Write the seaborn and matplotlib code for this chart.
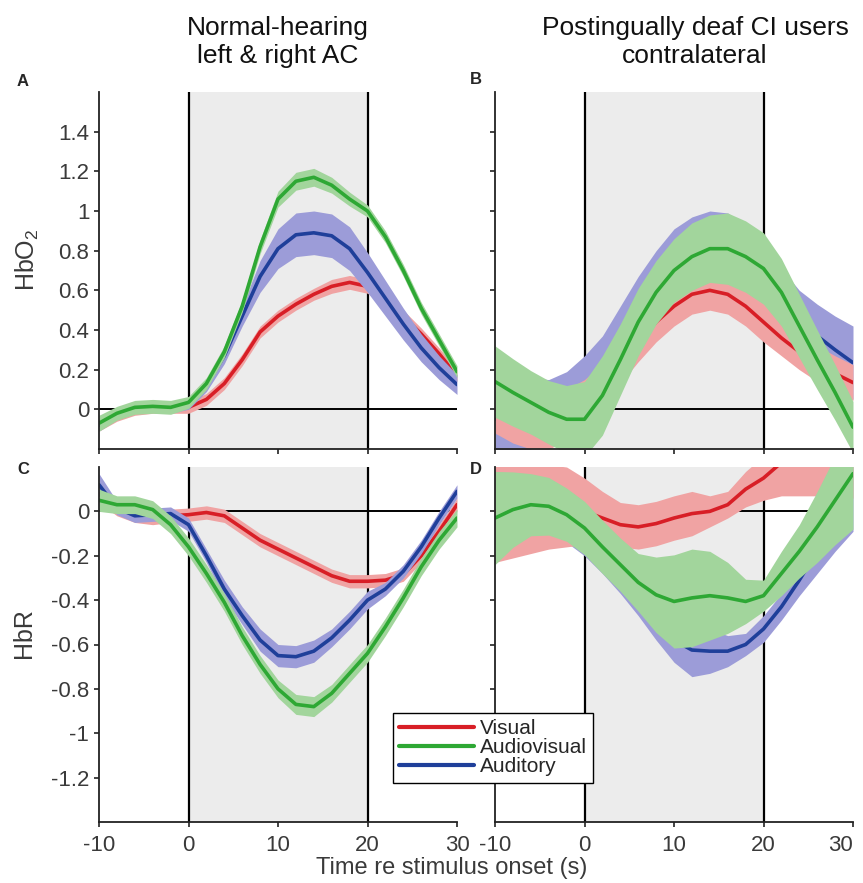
import numpy as np
import pandas as pd
import matplotlib
matplotlib.use("Agg")
import matplotlib.pyplot as plt
import seaborn as sns
from matplotlib.lines import Line2D

# time re stimulus onset (s), stimulus block 0-20 s
time_s = [-10, -8, -6, -4, -2, 0, 2, 4, 6, 8, 10, 12, 14, 16, 18, 20, 22, 24, 26, 28, 30]

# A: normal-hearing, HbO2 (mean and half-width of the shaded band)
a_vis = [-0.08, -0.03, 0.0, 0.01, 0.01, 0.01, 0.05, 0.13, 0.25, 0.39, 0.47, 0.53, 0.58, 0.62, 0.64, 0.62, 0.55, 0.47, 0.38, 0.28, 0.17]
a_vis_hw = [0.03, 0.03, 0.03, 0.03, 0.03, 0.03, 0.03, 0.03, 0.03, 0.03, 0.03, 0.03, 0.03, 0.035, 0.035, 0.035, 0.03, 0.03, 0.03, 0.03, 0.03]
a_av = [-0.07, -0.02, 0.01, 0.015, 0.01, 0.035, 0.13, 0.29, 0.52, 0.82, 1.06, 1.15, 1.17, 1.13, 1.06, 1.0, 0.87, 0.7, 0.51, 0.35, 0.19]
a_av_hw = [0.04, 0.035, 0.035, 0.035, 0.035, 0.03, 0.03, 0.03, 0.03, 0.035, 0.04, 0.045, 0.045, 0.04, 0.035, 0.03, 0.03, 0.03, 0.03, 0.03, 0.03]
a_aud = [-0.08, -0.02, 0.01, 0.015, 0.01, 0.03, 0.12, 0.27, 0.47, 0.67, 0.81, 0.88, 0.89, 0.875, 0.81, 0.69, 0.56, 0.43, 0.31, 0.21, 0.125]
a_aud_hw = [0.03, 0.03, 0.03, 0.03, 0.03, 0.03, 0.03, 0.04, 0.05, 0.08, 0.1, 0.11, 0.11, 0.11, 0.11, 0.1, 0.09, 0.08, 0.07, 0.06, 0.05]

# B: CI users contralateral, HbO2
b_vis = [0.0, -0.04, -0.06, -0.06, -0.03, 0.03, 0.12, 0.23, 0.34, 0.44, 0.52, 0.58, 0.6, 0.58, 0.52, 0.44, 0.36, 0.29, 0.23, 0.18, 0.135]
b_vis_hw = [0.12, 0.13, 0.14, 0.14, 0.13, 0.12, 0.11, 0.1, 0.1, 0.1, 0.1, 0.1, 0.1, 0.1, 0.1, 0.1, 0.09, 0.09, 0.09, 0.09, 0.09]
b_av = [0.14, 0.085, 0.035, -0.015, -0.05, -0.05, 0.07, 0.25, 0.44, 0.59, 0.7, 0.77, 0.81, 0.81, 0.77, 0.71, 0.59, 0.42, 0.25, 0.085, -0.09]
b_av_hw = [0.18, 0.17, 0.16, 0.16, 0.17, 0.19, 0.2, 0.18, 0.17, 0.16, 0.16, 0.17, 0.17, 0.18, 0.18, 0.18, 0.17, 0.16, 0.15, 0.14, 0.13]
b_aud = [-0.05, -0.04, -0.02, 0.0, 0.04, 0.1, 0.2, 0.35, 0.5, 0.63, 0.73, 0.79, 0.82, 0.81, 0.76, 0.67, 0.56, 0.45, 0.37, 0.3, 0.235]
b_aud_hw = [0.2, 0.2, 0.18, 0.15, 0.15, 0.17, 0.17, 0.17, 0.17, 0.17, 0.18, 0.18, 0.18, 0.18, 0.17, 0.16, 0.15, 0.15, 0.16, 0.17, 0.185]

# C: normal-hearing, HbR
c_vis = [0.08, 0.01, -0.02, -0.03, -0.02, -0.015, -0.005, -0.02, -0.075, -0.13, -0.17, -0.21, -0.25, -0.29, -0.315, -0.315, -0.31, -0.285, -0.2, -0.09, 0.03]
c_vis_hw = [0.04, 0.03, 0.03, 0.03, 0.03, 0.03, 0.03, 0.03, 0.03, 0.03, 0.03, 0.03, 0.03, 0.03, 0.03, 0.03, 0.03, 0.03, 0.03, 0.03, 0.03]
c_av = [0.05, 0.03, 0.03, 0.008, -0.06, -0.16, -0.28, -0.41, -0.56, -0.69, -0.8, -0.87, -0.88, -0.82, -0.73, -0.64, -0.52, -0.39, -0.25, -0.13, -0.03]
c_av_hw = [0.05, 0.04, 0.04, 0.04, 0.04, 0.04, 0.04, 0.04, 0.04, 0.04, 0.04, 0.045, 0.045, 0.04, 0.04, 0.04, 0.04, 0.04, 0.04, 0.04, 0.04]
c_aud = [0.12, 0.015, -0.02, -0.015, -0.01, -0.06, -0.2, -0.35, -0.47, -0.58, -0.65, -0.655, -0.63, -0.57, -0.49, -0.4, -0.35, -0.27, -0.16, -0.03, 0.09]
c_aud_hw = [0.05, 0.03, 0.03, 0.03, 0.03, 0.03, 0.03, 0.04, 0.04, 0.05, 0.05, 0.05, 0.05, 0.04, 0.04, 0.04, 0.03, 0.03, 0.03, 0.03, 0.03]

# D: CI users contralateral, HbR
d_vis = [0.0, 0.0, 0.01, 0.02, 0.02, 0.0, -0.03, -0.06, -0.07, -0.055, -0.03, -0.01, 0.0, 0.03, 0.1, 0.15, 0.22, 0.26, 0.27, 0.27, 0.27]
d_vis_hw = [0.23, 0.21, 0.2, 0.19, 0.18, 0.15, 0.12, 0.1, 0.1, 0.1, 0.1, 0.1, 0.07, 0.06, 0.08, 0.1, 0.15, 0.19, 0.2, 0.21, 0.21]
d_av = [-0.03, 0.008, 0.03, 0.023, -0.015, -0.075, -0.16, -0.24, -0.32, -0.376, -0.406, -0.39, -0.38, -0.39, -0.406, -0.38, -0.28, -0.18, -0.07, 0.05, 0.17]
d_av_hw = [0.21, 0.17, 0.14, 0.13, 0.12, 0.12, 0.12, 0.12, 0.13, 0.17, 0.21, 0.22, 0.2, 0.16, 0.1, 0.07, 0.1, 0.12, 0.16, 0.2, 0.25]
d_aud = [0.0, 0.02, 0.03, 0.03, -0.02, -0.1, -0.2, -0.3, -0.4, -0.5, -0.58, -0.625, -0.63, -0.63, -0.6, -0.53, -0.43, -0.31, -0.18, -0.05, 0.08]
d_aud_hw = [0.15, 0.15, 0.15, 0.14, 0.12, 0.1, 0.08, 0.07, 0.07, 0.08, 0.1, 0.12, 0.1, 0.07, 0.05, 0.06, 0.06, 0.07, 0.1, 0.13, 0.17]

conditions = ["Visual", "Audiovisual", "Auditory"]
line_colors = {"Visual": "#d81e26", "Audiovisual": "#2ea834", "Auditory": "#1f3f9a"}
band_colors = {"Visual": "#f0a3a3", "Audiovisual": "#a2d59c", "Auditory": "#9c9cd8"}
shade_color = "#ececec"

hbo_ticks = [0, 0.2, 0.4, 0.6, 0.8, 1.0, 1.2, 1.4]
hbo_ticklabels = ["0", "0.2", "0.4", "0.6", "0.8", "1", "1.2", "1.4"]
hbr_ticks = [-1.2, -1.0, -0.8, -0.6, -0.4, -0.2, 0]
hbr_ticklabels = ["-1.2", "-1", "-0.8", "-0.6", "-0.4", "-0.2", "0"]
x_ticks = [-10, 0, 10, 20, 30]
x_ticklabels = ["-10", "0", "10", "20", "30"]

sns.set_theme(style="ticks")
plt.rcParams["font.family"] = ["Liberation Sans", "DejaVu Sans"]
plt.rcParams["mathtext.default"] = "regular"
plt.rcParams["axes.unicode_minus"] = False

W, H = 863, 883
fig = plt.figure(figsize=(W / 100, H / 100), dpi=100)


def px_axes(x0, y0, x1, y1):
    # axes from pixel box (top-left origin)
    return fig.add_axes([x0 / W, 1 - y1 / H, (x1 - x0) / W, (y1 - y0) / H])


def draw_panel(ax, series, order, ylim, yticks, yticklabels, xlabels, ylabels):
    ax.axvspan(0, 20, color=shade_color, lw=0, zorder=0)
    ax.axvline(0, color="black", lw=1.6, zorder=1)
    ax.axvline(20, color="black", lw=1.6, zorder=1)
    ax.axhline(0, color="black", lw=1.4, zorder=1)
    z = 2
    for cond in order:
        mean, hw = series[cond]
        m = np.array(mean)
        h = np.array(hw)
        ax.fill_between(time_s, m - h, m + h, color=band_colors[cond], lw=0, zorder=z)
        df = pd.DataFrame({"t": time_s, "v": mean})
        sns.lineplot(data=df, x="t", y="v", ax=ax, color=line_colors[cond], lw=2.6, zorder=z + 1)
        z += 2
    ax.set_xlim(-10, 30)
    ax.set_ylim(*ylim)
    ax.set_xticks(x_ticks)
    ax.set_xticklabels(x_ticklabels if xlabels else [])
    ax.set_yticks(yticks)
    ax.set_yticklabels(yticklabels if ylabels else [])
    ax.set_xlabel("")
    ax.set_ylabel("")
    ax.set_facecolor("white")
    sns.despine(ax=ax)
    for side in ["left", "bottom"]:
        ax.spines[side].set_linewidth(1.3)
        ax.spines[side].set_color("#222222")
        ax.spines[side].set_zorder(20)
    ax.tick_params(direction="out", length=3.5, width=1.2, pad=3.5,
                   labelsize=16, colors="#222222", labelcolor="#3a3a3a")
    ax.tick_params(axis="x", pad=6)


left_order = ["Visual", "Auditory", "Audiovisual"]
right_order = ["Auditory", "Visual", "Audiovisual"]

ax_a = px_axes(99, 92, 457, 449)
draw_panel(ax_a, {"Visual": (a_vis, a_vis_hw), "Audiovisual": (a_av, a_av_hw), "Auditory": (a_aud, a_aud_hw)},
           left_order, (-0.2, 1.6), hbo_ticks, hbo_ticklabels, False, True)
ax_b = px_axes(495, 92, 853, 449)
draw_panel(ax_b, {"Visual": (b_vis, b_vis_hw), "Audiovisual": (b_av, b_av_hw), "Auditory": (b_aud, b_aud_hw)},
           right_order, (-0.2, 1.6), hbo_ticks, hbo_ticklabels, False, False)
ax_c = px_axes(99, 467, 457, 822)
draw_panel(ax_c, {"Visual": (c_vis, c_vis_hw), "Audiovisual": (c_av, c_av_hw), "Auditory": (c_aud, c_aud_hw)},
           left_order, (-1.4, 0.2), hbr_ticks, hbr_ticklabels, True, True)
ax_d = px_axes(495, 467, 853, 822)
draw_panel(ax_d, {"Visual": (d_vis, d_vis_hw), "Audiovisual": (d_av, d_av_hw), "Auditory": (d_aud, d_aud_hw)},
           right_order, (-1.4, 0.2), hbr_ticks, hbr_ticklabels, True, False)
# keep the last tick label inside the figure, as in the original
ax_d.get_xticklabels()[-1].set_horizontalalignment("right")

# titles, labels, panel letters
fig.text(278 / W, 1 - 42 / H, "Normal-hearing\nleft & right AC", ha="center", va="center",
         fontsize=19, linespacing=1.22, color="#111111")
fig.text(695 / W, 1 - 42 / H, "Postingually deaf CI users\ncontralateral", ha="center", va="center",
         fontsize=19, linespacing=1.22, color="#111111")
fig.text(27 / W, 1 - 260 / H, "HbO$_2$", rotation=90, ha="center", va="center", fontsize=18, color="#3a3a3a")
fig.text(24 / W, 1 - 633 / H, "HbR", rotation=90, ha="center", va="center", fontsize=18, color="#3a3a3a")
fig.text(452 / W, 1 - 868 / H, "Time re stimulus onset (s)", ha="center", va="center", fontsize=17, color="#3a3a3a")
for letter, (px, py) in zip("ABCD", [(23, 81), (476, 80), (23, 470), (476, 470)]):
    fig.text(px / W, 1 - py / H, letter, ha="center", va="center", fontsize=12, fontweight="bold")

handles = [Line2D([], [], color=line_colors[c], lw=3, label=c) for c in conditions]
leg = fig.legend(handles=handles, loc="upper left", bbox_to_anchor=(393 / W, 1 - 713 / H),
                 frameon=True, fancybox=False, framealpha=1, edgecolor="black", fontsize=15,
                 handlelength=3.6, handletextpad=0.25, labelspacing=0.0, borderpad=0.3,
                 borderaxespad=0)
leg.get_frame().set_linewidth(1.0)
leg.set_zorder(30)

fig.savefig("out.png", dpi=100)
